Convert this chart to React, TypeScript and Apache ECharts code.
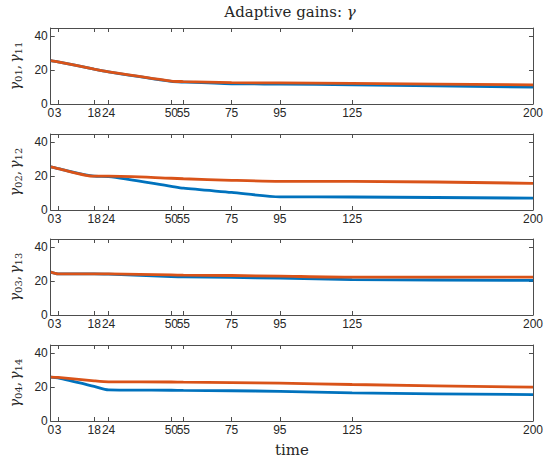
import React, { useEffect, useRef } from 'react';
import * as echarts from 'echarts';

const times = [0, 3, 18, 24, 50, 55, 75, 95, 125, 200];
const xTickValues = [0, 3, 18, 24, 50, 55, 75, 95, 125, 200];
const yTickValues = [0, 20, 40];

const blue1 = [25.7, 25.0, 20.6, 19.0, 13.4, 13.0, 12.0, 11.8, 11.4, 10.0];
const orange1 = [25.7, 25.0, 20.6, 19.0, 13.6, 13.3, 12.6, 12.5, 12.2, 11.3];
const blue2 = [25.5, 24.5, 20.0, 19.8, 14.0, 12.9, 10.4, 7.8, 7.7, 7.0];
const orange2 = [25.5, 24.5, 20.0, 20.0, 18.8, 18.5, 17.6, 17.0, 17.0, 15.8];
const blue3 = [25.4, 24.4, 24.4, 24.2, 22.8, 22.6, 22.3, 21.8, 21.0, 20.5];
const orange3 = [25.4, 24.4, 24.4, 24.3, 23.7, 23.6, 23.4, 23.0, 22.4, 22.4];
const blue4 = [26.0, 25.5, 20.5, 18.4, 18.2, 18.1, 17.9, 17.6, 16.6, 15.6];
const orange4 = [26.0, 25.8, 23.8, 23.2, 23.1, 23.0, 22.7, 22.4, 21.6, 20.0];

const blueSeries = [blue1, blue2, blue3, blue4];
const orangeSeries = [orange1, orange2, orange3, orange4];
const subscriptPairs = [
  ['01', '11'],
  ['02', '12'],
  ['03', '13'],
  ['04', '14'],
];

const gridTops = [28, 134, 239, 345];
const gridHeight = 76;
const textColor = '#262626';
const axisColor = '#4d4d4d';
const serif = '"DejaVu Serif", "Liberation Serif", serif';
const sans = '"Liberation Sans", Arial, sans-serif';

export default function App() {
  const ref = useRef<HTMLDivElement>(null);
  useEffect(() => {
    if (!ref.current) return;
    const chart = echarts.init(ref.current, undefined, { renderer: 'svg' });
    const grid: any[] = [];
    const xAxis: any[] = [];
    const yAxis: any[] = [];
    const series: any[] = [];
    const rich = {
      g: { fontFamily: serif, fontStyle: 'italic', fontSize: 14, color: textColor },
      s: { fontFamily: serif, fontSize: 10, color: textColor, verticalAlign: 'bottom', padding: [7, 0, 0, 0] },
      c: { fontFamily: serif, fontSize: 14, color: textColor, padding: [0, 2, 0, 0] },
    };
    gridTops.forEach((top, i) => {
      grid.push({ left: 41, right: 8, top, height: gridHeight, containLabel: false });
      const last = i === gridTops.length - 1;
      xAxis.push({
        type: 'value', gridIndex: i, min: 0, max: 200, position: 'bottom',
        axisLine: { onZero: false, lineStyle: { color: axisColor, width: 1 } },
        axisTick: { inside: true, length: 4, customValues: xTickValues, lineStyle: { color: axisColor } },
        axisLabel: { customValues: xTickValues, fontFamily: sans, fontSize: 12, color: textColor, margin: 3 },
        splitLine: { show: false },
        name: last ? 'time' : '',
        nameLocation: 'middle',
        nameGap: 21,
        nameTextStyle: { fontFamily: serif, fontSize: 15, color: textColor },
      });
      xAxis.push({
        type: 'value', gridIndex: i, min: 0, max: 200, position: 'top',
        axisLine: { onZero: false, lineStyle: { color: axisColor, width: 1 } },
        axisTick: { inside: true, length: 4, customValues: xTickValues, lineStyle: { color: axisColor } },
        axisLabel: { show: false },
        splitLine: { show: false },
      });
      const [a, b] = subscriptPairs[i];
      yAxis.push({
        type: 'value', gridIndex: i, min: 0, max: 45, position: 'left',
        axisLine: { show: true, onZero: false, lineStyle: { color: axisColor, width: 1 } },
        axisTick: { show: true, inside: true, length: 4, customValues: yTickValues, lineStyle: { color: axisColor } },
        axisLabel: { customValues: yTickValues, fontFamily: sans, fontSize: 12, color: textColor, margin: 3 },
        splitLine: { show: false },
        name: `{g|γ}{s|${a}}{c|,}{g|γ}{s|${b}}`,
        nameLocation: 'middle',
        nameRotate: 90,
        nameGap: 25,
        nameTextStyle: { rich },
      });
      yAxis.push({
        type: 'value', gridIndex: i, min: 0, max: 45, position: 'right',
        axisLine: { show: true, onZero: false, lineStyle: { color: axisColor, width: 1 } },
        axisTick: { show: true, inside: true, length: 4, customValues: yTickValues, lineStyle: { color: axisColor } },
        axisLabel: { show: false },
        splitLine: { show: false },
      });
      series.push({
        type: 'line', xAxisIndex: 2 * i, yAxisIndex: 2 * i,
        data: times.map((t, j) => [t, blueSeries[i][j]]),
        showSymbol: false, smooth: 0.25,
        lineStyle: { color: '#0072BD', width: 2.8 },
        itemStyle: { color: '#0072BD' },
        z: 2,
      });
      series.push({
        type: 'line', xAxisIndex: 2 * i, yAxisIndex: 2 * i,
        data: times.map((t, j) => [t, orangeSeries[i][j]]),
        showSymbol: false, smooth: 0.25,
        lineStyle: { color: '#D95319', width: 2.8 },
        itemStyle: { color: '#D95319' },
        z: 3,
      });
    });
    chart.setOption({
      animation: false,
      backgroundColor: '#ffffff',
      grid,
      xAxis,
      yAxis,
      series,
      graphic: [
        {
          type: 'text',
          x: 290,
          y: 12,
          style: {
            text: '{t|Adaptive gains: }{g|γ}',
            align: 'center',
            verticalAlign: 'middle',
            rich: {
              t: { fontFamily: serif, fontSize: 15, fill: textColor, color: textColor },
              g: { fontFamily: serif, fontStyle: 'italic', fontSize: 15, fill: textColor, color: textColor },
            },
          },
        },
      ],
    });
    return () => chart.dispose();
  }, []);
  return (
    <div
      ref={ref}
      style={{ position: 'fixed', left: 0, top: 0, width: 546, height: 459, background: '#fff' }}
    />
  );
}
